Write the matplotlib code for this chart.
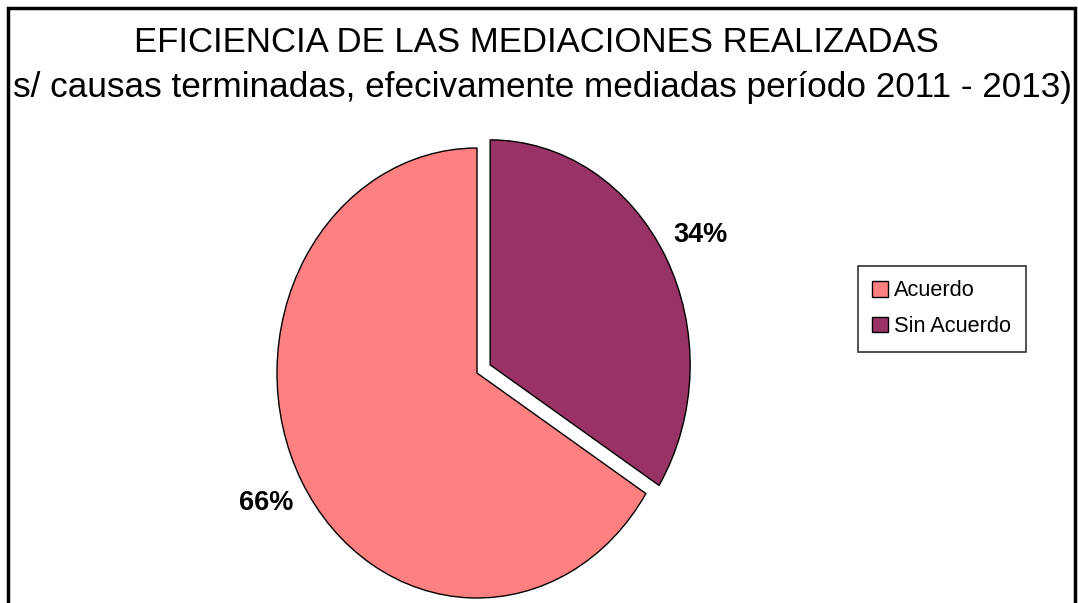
import matplotlib
matplotlib.use("Agg")
import matplotlib.pyplot as plt
from matplotlib.patches import Rectangle

plt.rcParams['font.family'] = ['Liberation Sans', 'DejaVu Sans']

labels = ["Acuerdo", "Sin Acuerdo"]
values = [66, 34]
colors = ["#FF8080", "#993366"]
title1 = "EFICIENCIA DE LAS MEDIACIONES REALIZADAS"
title2 = "s/ causas terminadas, efecivamente mediadas período 2011 - 2013)"

W, H = 1078, 603
fig = plt.figure(figsize=(W / 100, H / 100), dpi=100)

# axes spanning the whole figure; data units: 1 = 200 px horizontally, 225 px vertically
cx, cy, rx, ry = 477, 373, 200, 225
ax = fig.add_axes([0, 0, 1, 1])

wedges, texts, autotexts = ax.pie(
    values, colors=colors, startangle=90, counterclock=True,
    explode=[0, 0.075], autopct='%1.0f%%', pctdistance=1.2,
    wedgeprops=dict(edgecolor='black', linewidth=1.0),
    textprops=dict(fontsize=19.5, fontweight='bold', color='black'),
    frame=True)
ax.set_xlim(-cx / rx, (W - cx) / rx)
ax.set_ylim((cy - H) / ry, cy / ry)
ax.set_aspect('auto')
ax.axis('off')

fig.text(536 / W, 1 - 52 / H, title1, ha='center', va='baseline', fontsize=25)
fig.text(542 / W, 1 - 97 / H, title2, ha='center', va='baseline', fontsize=25.3)

leg = fig.legend(wedges, labels, loc='upper left',
                 bbox_to_anchor=(858 / W, 1 - 266 / H), bbox_transform=fig.transFigure,
                 borderaxespad=0, fontsize=15.7, frameon=True, fancybox=False,
                 handlelength=0.72, handleheight=0.72, handletextpad=0.28,
                 labelspacing=0.68, borderpad=0.66)
leg.get_frame().set_edgecolor('black')
leg.get_frame().set_linewidth(1.2)

fig.patches.append(Rectangle((8 / W, -0.1), (1075 - 8) / W, 1.1 - 8 / H,
                             transform=fig.transFigure, fill=False,
                             edgecolor='black', linewidth=2.5))

fig.savefig("out.png", dpi=100)
